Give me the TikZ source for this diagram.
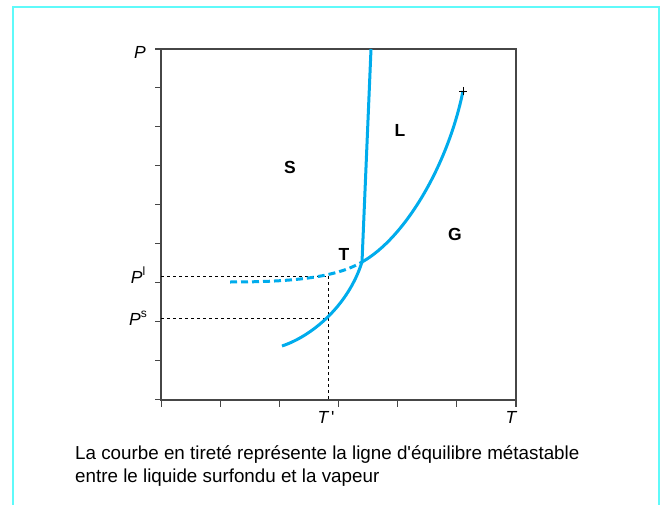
\documentclass[tikz,border=0pt]{standalone}
\usepackage{fontspec}
\setmainfont{Liberation Sans}
\definecolor{curveblue}{RGB}{0,172,236}
\definecolor{framecyan}{RGB}{95,250,250}
\definecolor{axisgray}{RGB}{70,70,70}
\tikzset{
  curve/.style={curveblue,line width=3pt},
  dashcurve/.style={curveblue,line width=3pt,dash pattern=on 7pt off 4pt},
  guide/.style={black,line width=0.8pt,dash pattern=on 3pt off 3pt},
  axisline/.style={axisgray,line width=1.1pt},
  ticklines/.style={axisgray,line width=1.1pt},
  region/.style={font=\fontsize{17.5}{19}\selectfont\bfseries,inner sep=0pt},
  axlabel/.style={font=\fontsize{17.5}{19}\selectfont\itshape,inner sep=0pt},
  caption/.style={font=\fontsize{18.8}{21}\selectfont,inner sep=0pt,anchor=base west}
}
\newcommand{\supup}[1]{\raisebox{0.45em}{\fontsize{12}{13}\selectfont\upshape #1}}
\begin{document}
\begin{tikzpicture}[x=1pt,y=-1pt]
\useasboundingbox (0,0) rectangle (663,505);
% outer frame
\draw[framecyan,line width=2pt] (13,510) -- (13,7) -- (659,7) -- (659,510);
% key points
\coordinate (O) at (161,400);
\coordinate (TL) at (161,49);
\coordinate (TR) at (516,49);
\coordinate (BR) at (516,400);
\coordinate (Tr) at (362,262);
\coordinate (Cr) at (463,91);
\coordinate (Mtop) at (371,49);
\coordinate (Sstart) at (282,346);
\coordinate (Dstart) at (230,282);
\coordinate (Pl) at (161,276);
\coordinate (Ps) at (161,318);
\coordinate (Xl) at (328,276);
\coordinate (Xs) at (328,318);
\coordinate (Tp) at (328,400);
% box
\draw[axisline] (TL) -- (TR) -- (BR) -- (O) -- cycle;
% ticks y
\foreach \k in {0,...,9} \draw[ticklines] (155,{49+38.9*\k}) -- (161,{49+38.9*\k});
% ticks x
\foreach \k in {0,...,6} \draw[ticklines] ({161.5+59.08*\k},400) -- ({161.5+59.08*\k},407);
% guides
\draw[guide] (Pl) -- (Xl);
\draw[guide] (Ps) -- (Xs);
\draw[guide] (Xl) -- (Tp);
% curves
\draw[curve] (Tr) -- (Mtop);
\draw[curve] (Tr) .. controls (405,238) and (448,165) .. (Cr);
\draw[curve] (Sstart) .. controls (312,336) and (348,306) .. (Tr);
\draw[dashcurve] (Dstart) .. controls (290,282) and (335,278) .. (Tr);
% critical point
\draw[black,line width=0.8pt] (459,91) -- (467,91) (463,87) -- (463,95);
% labels
\node[region] (S) at (290,167) {S};
\node[region] (L) at (400,130) {L};
\node[region] (G) at (455,234) {G};
\node[region] (T) at (344,254) {T};
\node[axlabel] (P) at (140,52) {P};
\node[axlabel,anchor=base] (PL) at (138,283) {P\supup{l}};
\node[axlabel,anchor=base] (PS) at (138,325) {P\supup{s}};
\node[axlabel] (Tprime) at (326,417) {T\,\upshape\textquotesingle};
\node[axlabel] (Tax) at (511,417) {T};
\node[caption] (c1) at (75,459) {La courbe en tireté représente la ligne d\textquotesingle équilibre métastable};
\node[caption] (c2) at (75,482) {entre le liquide surfondu et la vapeur};
\end{tikzpicture}
\end{document}
